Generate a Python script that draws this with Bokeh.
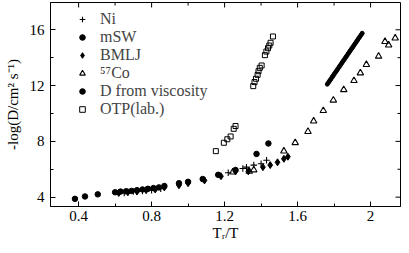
import math
from bokeh.plotting import figure
from bokeh.models import (Legend, LegendItem, FixedTicker,
                          CustomJSTickFormatter, Range1d)
from bokeh.embed import file_html
from bokeh.resources import INLINE

# ---- data ----
ni_x = [0.65, 0.70, 0.75, 0.80, 0.85, 1.22, 1.30, 1.32, 1.36, 1.40, 1.43]
ni_y = [4.30, 4.40, 4.45, 4.50, 4.60, 5.75, 6.05, 6.15, 6.30, 6.40, 6.65]

msw_x = [0.38, 0.435, 0.505, 0.60, 0.63, 0.66, 0.69, 0.72, 0.75, 0.78, 0.81,
         0.84, 0.87, 0.95, 1.00, 1.08, 1.165, 1.26, 1.375, 1.44]
msw_y = [3.88, 4.05, 4.20, 4.35, 4.40, 4.42, 4.45, 4.50, 4.55, 4.60, 4.65,
         4.70, 4.80, 5.00, 5.10, 5.30, 5.60, 5.95, 7.10, 7.85]

bmlj_x = [0.62, 0.67, 0.72, 0.77, 0.82, 0.87, 0.95, 1.00, 1.09, 1.18, 1.26,
          1.33, 1.41, 1.45, 1.49, 1.525, 1.547]
bmlj_y = [4.30, 4.35, 4.40, 4.50, 4.55, 4.70, 4.85, 5.00, 5.20, 5.50, 5.85,
          5.85, 6.15, 6.30, 6.50, 6.75, 6.90]

co_x = [1.245, 1.335, 1.36, 1.525, 1.587, 1.657, 1.688, 1.741, 1.796, 1.853,
        1.909, 1.944, 1.977, 2.044, 2.079, 2.099, 2.135]
co_y = [5.80, 5.85, 5.95, 7.30, 7.90, 8.70, 9.45, 10.20, 10.95, 11.70,
        12.35, 12.90, 13.50, 14.10, 15.15, 14.90, 15.40]

visc_x = [1.763, 1.770, 1.776, 1.782, 1.789, 1.795, 1.801, 1.808, 1.814,
          1.820, 1.827, 1.833, 1.840, 1.846, 1.852, 1.859, 1.865, 1.871,
          1.878, 1.884, 1.890, 1.897, 1.903, 1.909, 1.916, 1.922, 1.929,
          1.935, 1.941, 1.948, 1.954]
visc_y = [12.10, 12.23, 12.35, 12.46, 12.60, 12.71, 12.83, 12.96, 13.07,
          13.19, 13.32, 13.44, 13.57, 13.69, 13.80, 13.93, 14.05, 14.16,
          14.30, 14.41, 14.53, 14.66, 14.77, 14.89, 15.02, 15.14, 15.27,
          15.39, 15.50, 15.63, 15.75]

otp_x = [1.152, 1.196, 1.215, 1.233, 1.250, 1.260,
         1.357, 1.364, 1.372, 1.381, 1.386, 1.393, 1.403,
         1.421, 1.429, 1.438, 1.445, 1.452, 1.465]
otp_y = [7.30, 7.90, 8.15, 8.35, 8.90, 9.10,
         11.96, 12.25, 12.49, 12.77, 13.03, 13.27, 13.44,
         14.18, 14.44, 14.68, 14.87, 15.07, 15.52]

x_ticks = [0.4, 0.8, 1.2, 1.6, 2]
x_minor = [0.4, 0.6, 0.8, 1.0, 1.2, 1.4, 1.6, 1.8, 2.0]
y_ticks = [4, 8, 12, 16]
y_minor = [4, 6, 8, 10, 12, 14, 16]

X0, X1 = 0.246, 2.164
Y0, Y1 = 3.33, 17.956

SERIF = "Liberation Serif"

p = figure(width=401, height=245, output_backend="svg", toolbar_location=None,
           x_range=Range1d(X0, X1), y_range=Range1d(Y0, Y1),
           min_border_left=50, min_border_right=1, min_border_top=2,
           min_border_bottom=39, margin=(0, 0, -8, 0))
p.grid.visible = False
p.outline_line_color = "black"
p.outline_line_width = 1
p.background_fill_color = "white"
p.border_fill_color = "white"

fmt = CustomJSTickFormatter(code="return String(tick);")


def style_axis(ax, ticks, minor):
    ax.ticker = FixedTicker(ticks=ticks, minor_ticks=minor)
    ax.formatter = fmt
    ax.major_tick_in = 5
    ax.major_tick_out = 0
    ax.minor_tick_in = 3
    ax.minor_tick_out = 0
    ax.axis_line_color = "black"
    ax.major_tick_line_color = "black"
    ax.minor_tick_line_color = "black"
    ax.major_label_text_font = SERIF
    ax.major_label_text_font_size = "15px"
    ax.major_label_text_color = "black"
    ax.axis_label_text_font = SERIF
    ax.axis_label_text_font_style = "normal"
    ax.axis_label_text_font_size = "15px"
    ax.axis_label_text_color = "black"


style_axis(p.xaxis[0], x_ticks, x_minor)
style_axis(p.yaxis[0], y_ticks, y_minor)
p.xaxis[0].axis_label = "T\u1d63/T"
p.xaxis[0].axis_label_standoff = 1
p.xaxis[0].major_label_standoff = 4
p.yaxis[0].axis_label = "-log(D/cm\u00b2 s\u207b\u00b9)"
p.yaxis[0].axis_label_standoff = 6
p.yaxis[0].major_label_standoff = 6

# inward ticks on the top and right frame edges (clipped dashes)
x_min_only = [v for v in x_minor if v not in x_ticks]
y_min_only = [v for v in y_minor if v not in y_ticks]
p.scatter(x_ticks, [Y1] * len(x_ticks), marker="dash", size=10,
          angle=math.pi / 2, line_color="black", line_width=1)
p.scatter(x_min_only, [Y1] * len(x_min_only), marker="dash", size=6,
          angle=math.pi / 2, line_color="black", line_width=1)
p.scatter([X1] * len(y_ticks), y_ticks, marker="dash", size=10,
          line_color="black", line_width=1)
p.scatter([X1] * len(y_min_only), y_min_only, marker="dash", size=6,
          line_color="black", line_width=1)

r_ni = p.scatter(ni_x, ni_y, marker="cross", size=6.5, line_color="black",
                 line_width=1.1)
r_msw = p.scatter(msw_x, msw_y, marker="circle", size=5.5, fill_color="black",
                  line_color="black")
r_bmlj = p.scatter(bmlj_x, bmlj_y, marker="diamond", size=7, fill_color="black",
                   line_color="black")
r_co = p.scatter(co_x, co_y, marker="triangle", size=6.5, fill_color=None,
                 line_color="black", line_width=1.1)
r_visc = p.scatter(visc_x, visc_y, marker="circle", size=4, fill_color="black",
                   line_color="black")
r_otp = p.scatter(otp_x, otp_y, marker="square", size=5, fill_color=None,
                  line_color="black", line_width=1)

legend = Legend(items=[
    LegendItem(label="Ni", renderers=[r_ni]),
    LegendItem(label="mSW", renderers=[r_msw]),
    LegendItem(label="BMLJ", renderers=[r_bmlj]),
    LegendItem(label="\u2075\u2077Co", renderers=[r_co]),
    LegendItem(label="D from viscosity", renderers=[r_visc]),
    LegendItem(label="OTP(lab.)", renderers=[r_otp]),
], location=(24, 88))
legend.border_line_color = None
legend.background_fill_alpha = 0
legend.label_text_font = SERIF
legend.label_text_font_size = "16px"
legend.glyph_width = 16
legend.glyph_height = 14
legend.label_height = 14
legend.label_standoff = 10
legend.spacing = 0
legend.padding = 0
legend.margin = 0
legend.label_text_baseline = "middle"
p.add_layout(legend, "center")

open("out.html", "w").write(file_html(p, INLINE))
